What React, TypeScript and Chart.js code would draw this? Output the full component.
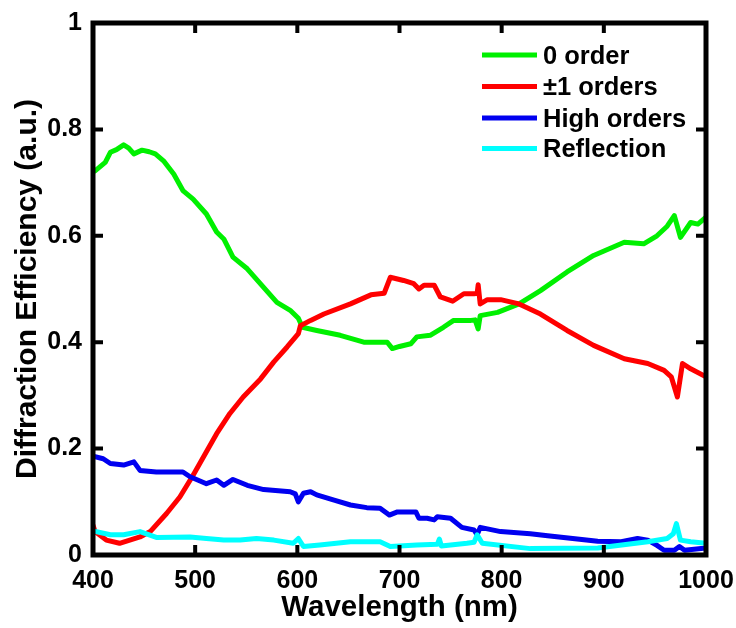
import React, { useEffect, useRef } from "react";
import { Chart, registerables } from "chart.js";

Chart.register(...registerables);

const xTicks = [400, 500, 600, 700, 800, 900, 1000];
const yTicks = [0, 0.2, 0.4, 0.6, 0.8, 1];
const seriesLabels = ["0 order", "±1 orders", "High orders", "Reflection"];
const seriesColors = ["#00f000", "#ff0000", "#0000f0", "#00ffff"];

const zeroWl = [400, 402, 412, 417, 423, 430, 435, 440, 448, 455, 461, 469, 479, 488, 498, 511, 521, 528, 537, 551, 567, 580, 593, 601, 605, 619, 642, 665, 681, 688, 693, 700, 711, 717, 730, 743, 753, 770, 774, 777, 779, 796, 817, 838, 864, 890, 920, 939, 952, 962, 969, 975, 985, 992, 1000];
const zeroVal = [0.72, 0.722, 0.738, 0.757, 0.762, 0.771, 0.765, 0.754, 0.761, 0.758, 0.754, 0.741, 0.716, 0.685, 0.669, 0.641, 0.607, 0.594, 0.56, 0.538, 0.503, 0.475, 0.46, 0.445, 0.428, 0.422, 0.413, 0.4, 0.4, 0.4, 0.388, 0.392, 0.397, 0.41, 0.413, 0.428, 0.441, 0.441, 0.442, 0.425, 0.45, 0.456, 0.472, 0.497, 0.532, 0.563, 0.588, 0.585, 0.6, 0.618, 0.638, 0.597, 0.625, 0.622, 0.635];

const firstWl = [400, 402, 413, 426, 436, 446, 456, 472, 485, 498, 511, 521, 534, 547, 564, 577, 590, 601, 603, 613, 626, 652, 672, 685, 691, 704, 714, 719, 724, 734, 740, 752, 763, 773, 776, 777, 779, 786, 799, 817, 838, 864, 890, 920, 943, 959, 966, 972, 977, 985, 1000];
const firstVal = [0.056, 0.044, 0.028, 0.022, 0.028, 0.034, 0.044, 0.078, 0.109, 0.15, 0.194, 0.228, 0.266, 0.297, 0.331, 0.363, 0.391, 0.416, 0.431, 0.441, 0.453, 0.472, 0.489, 0.492, 0.522, 0.516, 0.51, 0.5, 0.507, 0.507, 0.485, 0.477, 0.491, 0.491, 0.492, 0.508, 0.472, 0.48, 0.48, 0.472, 0.453, 0.422, 0.394, 0.369, 0.36, 0.347, 0.335, 0.297, 0.36, 0.35, 0.335];

const highWl = [400, 410, 417, 430, 440, 446, 462, 488, 495, 511, 521, 528, 537, 551, 567, 593, 598, 601, 606, 613, 619, 636, 652, 668, 681, 690, 698, 716, 719, 727, 734, 737, 750, 761, 773, 776, 779, 799, 828, 845, 894, 917, 933, 943, 952, 959, 969, 974, 979, 1000];
const highVal = [0.186, 0.181, 0.172, 0.169, 0.175, 0.159, 0.156, 0.156, 0.147, 0.134, 0.141, 0.131, 0.142, 0.131, 0.123, 0.119, 0.115, 0.1, 0.116, 0.119, 0.113, 0.103, 0.094, 0.089, 0.088, 0.075, 0.081, 0.081, 0.069, 0.069, 0.066, 0.072, 0.069, 0.052, 0.047, 0.038, 0.052, 0.044, 0.04, 0.036, 0.026, 0.025, 0.031, 0.028, 0.018, 0.009, 0.009, 0.016, 0.009, 0.013];

const reflWl = [400, 417, 430, 446, 462, 495, 511, 528, 544, 560, 577, 596, 601, 606, 622, 652, 681, 691, 717, 737, 739, 741, 766, 773, 776, 781, 828, 894, 943, 962, 968, 971, 975, 985, 1000];
const reflVal = [0.045, 0.038, 0.038, 0.044, 0.033, 0.034, 0.031, 0.028, 0.028, 0.031, 0.028, 0.022, 0.031, 0.016, 0.019, 0.025, 0.025, 0.016, 0.019, 0.02, 0.03, 0.017, 0.022, 0.024, 0.038, 0.022, 0.012, 0.013, 0.025, 0.031, 0.04, 0.059, 0.028, 0.025, 0.022];

const FONT = "'Liberation Sans', Arial, Helvetica, sans-serif";

function toPoints(xs: number[], ys: number[]) {
  return xs.map((x, i) => ({ x, y: ys[i] }));
}

const framePlugin = {
  id: "frameAndLegend",
  afterDatasetsDraw(chart: any) {
    const { ctx, chartArea } = chart;
    const { left, right, top, bottom } = chartArea;
    const xs = chart.scales.x;
    const ys = chart.scales.y;
    ctx.save();
    ctx.strokeStyle = "#000";
    ctx.lineWidth = 4;
    ctx.lineCap = "butt";
    ctx.beginPath();
    xTicks.forEach((v) => {
      const px = xs.getPixelForValue(v);
      ctx.moveTo(px, bottom);
      ctx.lineTo(px, bottom - 10);
      ctx.moveTo(px, top);
      ctx.lineTo(px, top + 10);
    });
    yTicks.forEach((v) => {
      const py = ys.getPixelForValue(v);
      ctx.moveTo(left, py);
      ctx.lineTo(left + 10, py);
      ctx.moveTo(right, py);
      ctx.lineTo(right - 10, py);
    });
    ctx.stroke();
    ctx.lineWidth = 5;
    ctx.strokeRect(left, top, right - left, bottom - top);

    // legend
    const lx0 = 482;
    const lx1 = 537;
    const rowY = [55, 86.5, 118, 148.5];
    ctx.font = `bold 25.5px ${FONT}`;
    ctx.textBaseline = "middle";
    ctx.textAlign = "left";
    seriesLabels.forEach((lab, i) => {
      ctx.strokeStyle = seriesColors[i];
      ctx.lineWidth = 5;
      ctx.beginPath();
      ctx.moveTo(lx0, rowY[i]);
      ctx.lineTo(lx1, rowY[i]);
      ctx.stroke();
      ctx.fillStyle = "#000";
      ctx.fillText(lab, 543, rowY[i] + 1.5);
    });
    ctx.restore();
  },
};

export default function App() {
  const ref = useRef<HTMLCanvasElement | null>(null);
  useEffect(() => {
    if (!ref.current) return;
    const seriesX = [zeroWl, firstWl, highWl, reflWl];
    const seriesY = [zeroVal, firstVal, highVal, reflVal];
    const chart = new Chart(ref.current, {
      type: "line",
      data: {
        datasets: seriesLabels.map((label, i) => ({
          label,
          data: toPoints(seriesX[i], seriesY[i]),
          borderColor: seriesColors[i],
          backgroundColor: seriesColors[i],
          borderWidth: 5,
          pointRadius: 0,
          tension: 0,
          fill: false,
          borderJoinStyle: "round" as const,
          borderCapStyle: "round" as const,
          order: 4 - i,
        })),
      },
      options: {
        responsive: false,
        animation: false,
        devicePixelRatio: 1,
        layout: { padding: { top: 23, right: 30, left: 0, bottom: 0 } },
        plugins: { legend: { display: false }, tooltip: { enabled: false } },
        scales: {
          x: {
            type: "linear",
            min: 400,
            max: 1000,
            grid: { display: false, drawTicks: false },
            border: { display: false },
            ticks: {
              stepSize: 100,
              color: "#000",
              padding: 11,
              font: { family: FONT, size: 25, weight: "bold" },
              callback: (v: any) => String(v),
            },
            title: {
              display: true,
              text: "Wavelength (nm)",
              color: "#000",
              font: { family: FONT, size: 29.5, weight: "bold" },
              padding: { top: 0, bottom: 2 },
            },
            afterFit: (s: any) => {
              s.height = 73;
              s.paddingLeft = 0;
              s.paddingRight = 0;
            },
          },
          y: {
            type: "linear",
            min: 0,
            max: 1,
            grid: { display: false, drawTicks: false },
            border: { display: false },
            ticks: {
              stepSize: 0.2,
              color: "#000",
              padding: 11,
              font: { family: FONT, size: 25, weight: "bold" },
              callback: (v: any) => String(Math.round(Number(v) * 10) / 10),
            },
            title: {
              display: true,
              text: "Diffraction Efficiency (a.u.)",
              color: "#000",
              font: { family: FONT, size: 30, weight: "bold" },
              padding: { top: 10, bottom: 0 },
            },
            afterFit: (s: any) => {
              s.width = 93;
              s.paddingTop = 0;
              s.paddingBottom = 0;
            },
          },
        },
      },
      plugins: [framePlugin],
    });
    return () => chart.destroy();
  }, []);
  return (
    <div style={{ position: "fixed", left: 0, top: 0, width: 736, height: 628, background: "#fff" }}>
      <canvas ref={ref} width={736} height={628} />
    </div>
  );
}
